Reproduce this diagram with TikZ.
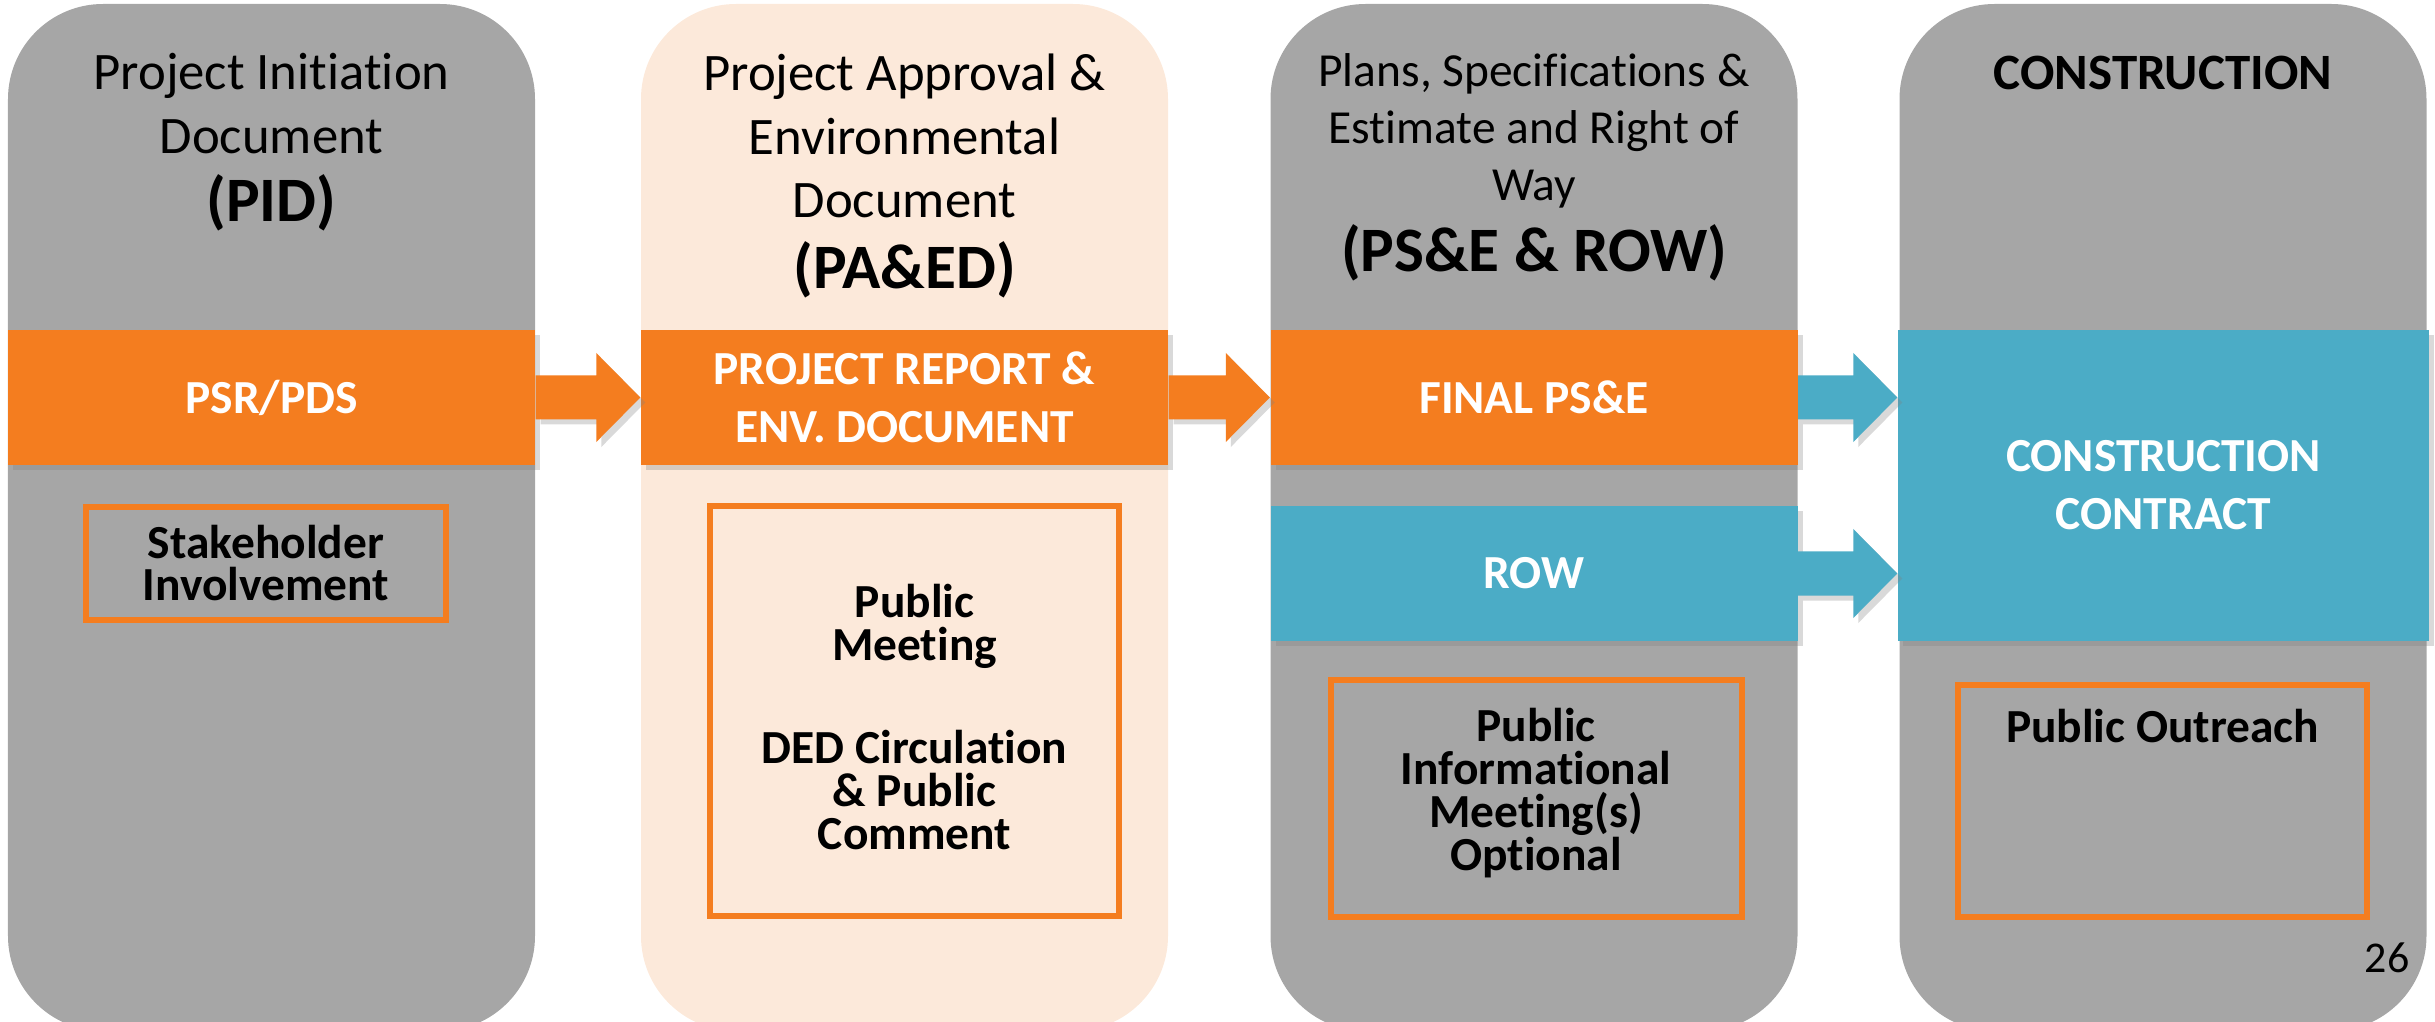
\documentclass[tikz,border=0pt]{standalone}
\usepackage{fontspec}
\setmainfont{Carlito}[Ligatures=NoCommon]
\usetikzlibrary{calc}
\usetikzlibrary{positioning}
\usetikzlibrary{shadows}
\definecolor{colgray}{HTML}{A6A6A6}
\definecolor{peach}{HTML}{FCE9DA}
\definecolor{bandorange}{HTML}{F47D1F}
\definecolor{bandblue}{HTML}{4BACC6}

\begin{document}
\begin{tikzpicture}[
  column/.style={rectangle, rounded corners=0.95cm, minimum width=5.27cm, minimum height=10.27cm, inner sep=0pt},
  softshadow/.style={drop shadow={shadow xshift=0.05cm, shadow yshift=-0.05cm, opacity=0.3}},
  band/.style={rectangle, softshadow, minimum width=5.27cm, minimum height=1.35cm, inner sep=0pt, text=white, align=center, font=\bfseries\fontsize{13.5}{16.5}\selectfont},
  outbox/.style={draw=bandorange, line width=0.06cm, inner sep=0pt},
  boxtext/.style={align=center, font=\bfseries\fontsize{13.5}{12.2}\selectfont},
  title/.style={align=center, font=\fontsize{15}{18.2}\selectfont},
]
\newcommand{\blockarrow}[3]{
  \fill[#3, softshadow] ($(#1)+(0,0.22)$) -- ($(#2)+(-0.44,0.22)$) -- ($(#2)+(-0.44,0.445)$) -- (#2)
    -- ($(#2)+(-0.44,-0.445)$) -- ($(#2)+(-0.44,-0.22)$) -- ($(#1)+(0,-0.22)$) -- cycle;
}

\useasboundingbox (0,0) rectangle (24.35,10.21);

% phases
\node[column, fill=colgray] (pid) at (2.715,5.035) {};
\node[column, fill=peach] (paed) at (9.045,5.035) {};
\node[column, fill=colgray] (pse) at (15.34,5.035) {};
\node[column, fill=colgray] (cons) at (21.63,5.035) {};

\node[title] (pidtitle) at (2.715,8.79) {Project Initiation\\Document\\[1pt]{\bfseries\fontsize{18}{22}\selectfont (PID)}};
\node[title] (paedtitle) at (9.045,8.45) {Project Approval \&\\Environmental\\Document\\[2pt]{\bfseries\fontsize{18}{22}\selectfont (PA\&ED)}};
\node[title, font=\fontsize{13.5}{16.2}\selectfont] (psetitle) at (15.34,8.54) {Plans, Specifications \&\\Estimate and Right of\\Way\\[4pt]{\bfseries\fontsize{18}{22}\selectfont (PS\&E \& ROW)}};
\node[title, font=\bfseries\fontsize{14.5}{17}\selectfont] (constitle) at (21.63,9.48) {CONSTRUCTION};

% products
\node[band, fill=bandorange] (psr) at (2.715,6.235) {PSR/PDS};
\node[band, fill=bandorange] (report) at (9.045,6.235) {PROJECT REPORT \&\\ENV. DOCUMENT};
\node[band, fill=bandorange] (final) at (15.34,6.235) {FINAL PS\&E};
\node[band, fill=bandblue] (row) at (15.34,4.475) {ROW};
\node[band, fill=bandblue, minimum width=5.31cm, minimum height=3.11cm] (contract) at (21.635,5.355) {CONSTRUCTION\\CONTRACT};

\coordinate (tip1) at (paed.west |- psr.east);
\coordinate (tip2) at (pse.west |- report.east);
\coordinate (tip3) at (contract.west |- final.east);
\coordinate (tip4) at (contract.west |- row.east);
\blockarrow{psr.east}{tip1}{bandorange}
\blockarrow{report.east}{tip2}{bandorange}
\blockarrow{final.east}{tip3}{bandblue}
\blockarrow{row.east}{tip4}{bandblue}

% public involvement
\node[outbox, minimum width=3.60cm, minimum height=1.13cm] (stake) at (2.66,4.575) {};
\node[boxtext] (staketext) at (2.66,4.58) {Stakeholder\\Involvement};
\node[outbox, minimum width=4.09cm, minimum height=4.10cm] (meeting) at (9.145,3.10) {};
\node[boxtext] (meetingtext) at (9.145,3.04) {Public\\Meeting\\[0.6cm]DED Circulation\\\& Public\\Comment};
\node[outbox, minimum width=4.11cm, minimum height=2.37cm] (info) at (15.365,2.225) {};
\node[boxtext] (infotext) at (15.36,2.28) {Public\\Informational\\Meeting(s)\\Optional};
\node[outbox, minimum width=4.09cm, minimum height=2.32cm] (outreach) at (21.625,2.20) {};
\node[boxtext, below=0.15cm of outreach.north] (outreachtext) {Public Outreach};

\node[font=\fontsize{12.5}{15}\selectfont] (pagenum) at (23.87,0.63) {26};
\end{tikzpicture}
\end{document}
